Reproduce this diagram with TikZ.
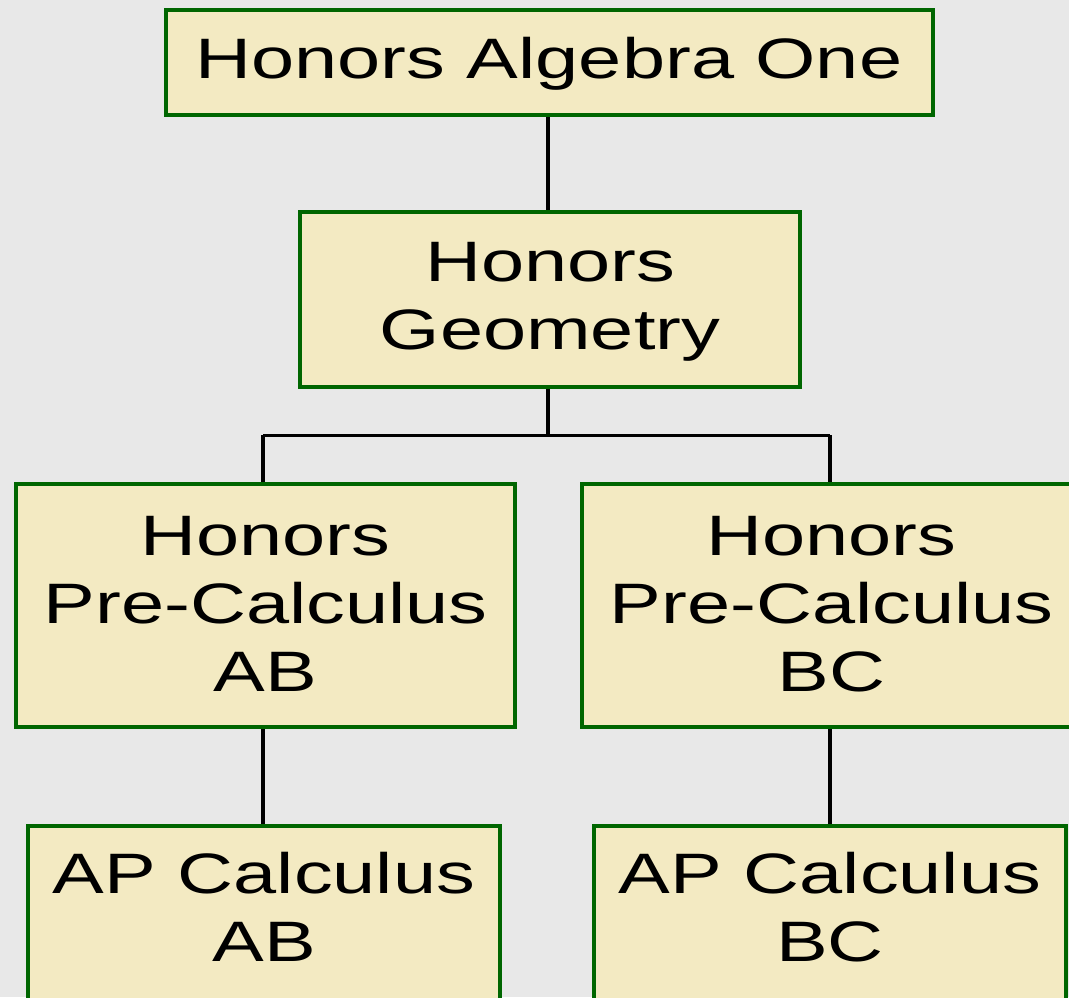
\documentclass[tikz,border=0pt]{standalone}
\usepackage{fontspec}
\setmainfont{Liberation Sans}[FakeStretch=1.36]
\definecolor{bg}{HTML}{E8E8E8}
\definecolor{boxfill}{HTML}{F3EAC2}
\definecolor{boxline}{HTML}{006600}
\tikzset{
  coursebox/.style={draw=boxline, fill=boxfill, line width=4pt, rectangle, inner sep=0pt},
  coursetext/.style={align=center, inner sep=0pt, font=\fontsize{57}{68}\selectfont},
  link/.style={line width=3.5pt, black}
}
\begin{document}
\begin{tikzpicture}[x=1pt,y=-1pt]
\clip (0,0) rectangle (1069,997);
\fill[bg] (0,0) rectangle (1069,997);
% boxes
\node[coursebox, minimum width=767pt, minimum height=105pt] (alg) at (549.5,62.5) {};
\node[coursebox, minimum width=500pt, minimum height=175pt] (geo) at (550,299.5) {};
\node[coursebox, minimum width=499pt, minimum height=243pt] (pab) at (265.5,605.5) {};
\node[coursebox, minimum width=499pt, minimum height=243pt] (pbc) at (831.5,605.5) {};
\node[coursebox, minimum width=472pt, minimum height=200pt, anchor=north] (aab) at (264,824) {};
\node[coursebox, minimum width=472pt, minimum height=200pt, anchor=north] (abc) at (830,824) {};
% texts
\node[coursetext] (talg) at (549,64) {Honors Algebra One};
\node[coursetext] (tgeo) at (550,302) {Honors\\Geometry};
\node[coursetext] (tpab) at (265.5,604) {Honors\\Pre-Calculus\\AB};
\node[coursetext] (tpbc) at (831.5,604) {Honors\\Pre-Calculus\\BC};
\node[coursetext] (taab) at (264,907) {AP Calculus\\AB};
\node[coursetext] (tabc) at (830,907) {AP Calculus\\BC};
% connectors
\coordinate (split) at (548,435);
\draw[link] (alg.south -| split) -- (geo.north -| split);
\draw[link] (geo.south -| split) -- (split);
\draw[link, line width=3pt] (263,435) coordinate (sl) -- (830,435) coordinate (sr);
\draw[link] (sl) -- (pab.north -| sl);
\draw[link] (sr) -- (pbc.north -| sr);
\draw[link] (pab.south -| sl) -- (aab.north -| sl);
\draw[link] (pbc.south -| sr) -- (abc.north -| sr);
\end{tikzpicture}
\end{document}
